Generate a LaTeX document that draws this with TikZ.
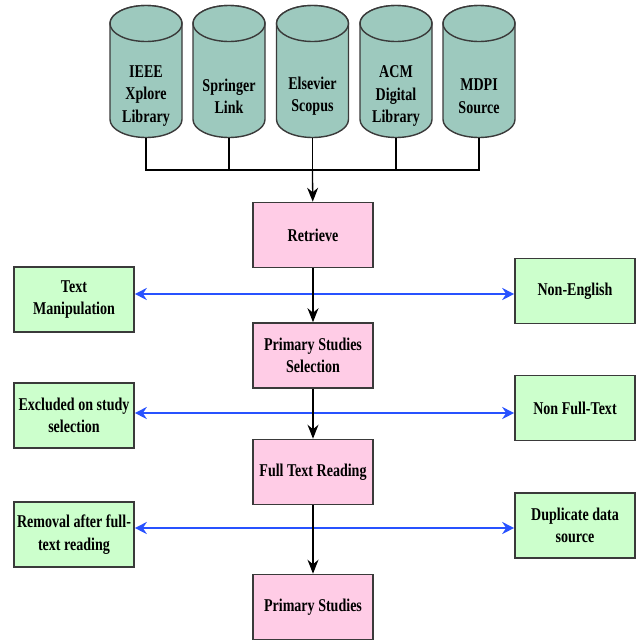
\documentclass[tikz,border=0pt]{standalone}
\usepackage{fontspec}
\setmainfont[FakeStretch=0.78]{Liberation Serif}
\usetikzlibrary{arrows.meta}
\definecolor{dbfill}{HTML}{9DC9BE}
\definecolor{stepfill}{HTML}{FFCCE6}
\definecolor{dropfill}{HTML}{CCFFCC}
\definecolor{edgeline}{HTML}{3A3A3A}
\definecolor{dropline}{HTML}{2852FF}

\begin{document}
\begin{tikzpicture}[x=1pt,y=-1pt,
  font=\fontsize{18}{22.5}\selectfont\bfseries,
  box/.style={draw=edgeline,line width=1.6pt,align=center,minimum width=120pt,minimum height=65pt,inner sep=2pt},
  stepbox/.style={box,fill=stepfill},
  dropbox/.style={box,fill=dropfill},
  dbase/.style={draw=edgeline,line width=1.4pt,fill=dbfill},
  dbtext/.style={align=center,inner sep=1pt},
  flow/.style={-{Stealth[length=14pt,width=11pt]},line width=1.3pt},
  drop/.style={{Stealth[length=12pt,width=12pt]}-{Stealth[length=12pt,width=12pt]},line width=2pt,draw=dropline}
]
\useasboundingbox (0,0) rectangle (637,641);
% sources
\foreach \x/\name/\txt in {146/ieee/IEEE\\Xplore\\Library,229/springer/Springer\\Link,312.5/scopus/Elsevier\\Scopus,
  396/acm/ACM\\Digital\\Library,479/mdpi/MDPI\\Source} {
  \draw[dbase] (\x-36,23.5) -- (\x-36,119.5) arc[start angle=180,end angle=360,x radius=36pt,y radius=18pt]
    -- (\x+36,23.5) arc[start angle=0,end angle=180,x radius=36pt,y radius=18pt] -- cycle;
  \draw[dbase] (\x,23.5) ellipse [x radius=36pt,y radius=18pt];
  \node[dbtext] (\name) at (\x,96) {\txt};
  \coordinate (\name-foot) at (\x,138);
}
\coordinate (bus) at (312.5,170);
\foreach \name in {ieee,springer,scopus,acm,mdpi}
  \draw[line width=1.3pt] (\name-foot) |- (bus);
% main steps
\node[stepbox] (retrieve) at (313,235) {Retrieve};
\node[stepbox] (select) at (313,355.5) {Primary Studies\\Selection};
\node[stepbox] (fullread) at (313,472) {Full Text Reading};
\node[stepbox] (primary) at (313,607) {Primary Studies};
% removed studies
\node[dropbox] (textman) at (74,299.5) {Text\\Manipulation};
\node[dropbox] (nonenglish) at (575,291) {Non-English};
\node[dropbox] (excluded) at (74,415.5) {Excluded on study\\selection};
\node[dropbox] (nonfull) at (575,408) {Non Full-Text};
\node[dropbox] (removal) at (74,534.5) {Removal after full-\\text reading};
\node[dropbox] (duplicate) at (575,525.5) {Duplicate data\\source};
\coordinate (cut1) at (313,294);
\coordinate (cut2) at (313,413);
\coordinate (cut3) at (313,528);
\draw[drop] (textman.east |- cut1) -- (nonenglish.west |- cut1);
\draw[drop] (excluded.east |- cut2) -- (nonfull.west |- cut2);
\draw[drop] (removal.east |- cut3) -- (duplicate.west |- cut3);
\draw[flow] (bus) -- (retrieve);
\draw[flow] (retrieve) -- (select);
\draw[flow] (select) -- (fullread);
\draw[flow] (fullread) -- (primary);
\end{tikzpicture}
\end{document}
